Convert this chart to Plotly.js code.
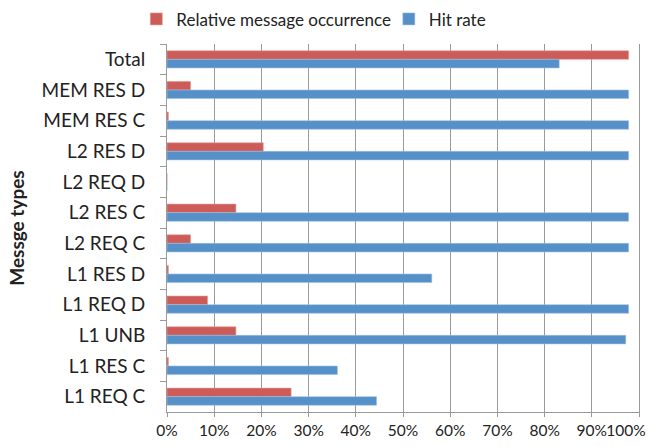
<!DOCTYPE html>
<html>
<head>
<meta charset="utf-8">
<script src="https://cdn.plot.ly/plotly-3.0.1.min.js"></script>
<style>html,body{margin:0;padding:0;background:#fff;}#chart{width:648px;height:447px;}</style>
</head>
<body>
<div id="chart"></div>
<script>
const categories = ["Total","MEM RES D","MEM RES C","L2 RES D","L2 REQ D","L2 RES C","L2 REQ C","L1 RES D","L1 REQ D","L1 UNB","L1 RES C","L1 REQ C"];
const relativeOccurrence = [97.8, 5.0, 0.3, 20.4, 0, 14.6, 5.0, 0.3, 8.6, 14.6, 0.3, 26.3];
const hitRate = [83.1, 97.8, 97.8, 97.8, 0, 97.8, 97.8, 56.1, 97.8, 97.2, 36.1, 44.4];
const xTickVals = [0,10,20,30,40,50,60,70,80,90,100];
const xTickText = ["0%","10%","20%","30%","40%","50%","60%","70%","80%","90%","100%"];

const fontFam = "Lato, 'Open Sans', sans-serif";
const lastIdx = xTickVals.length - 1;
const mainTickText = xTickText.map((t, i) => i === lastIdx ? '' : t);

const traces = [
  {type:'bar', orientation:'h', name:'Relative message occurrence', y:categories, x:relativeOccurrence,
   marker:{color:'#CD5B57', line:{color:'#E3A09C', width:0.6}}, legend:'legend'},
  {type:'bar', orientation:'h', name:'Hit rate', y:categories, x:hitRate,
   marker:{color:'#5590C8', line:{color:'#9DBFE0', width:0.6}}, legend:'legend2'},
  // helper (draws nothing) so that the overlay axis carrying the "100%" label is rendered
  {type:'scatter', mode:'markers', x:[], y:[], xaxis:'x2', yaxis:'y', showlegend:false, hoverinfo:'skip'}
];
const legendCommon = {orientation:'h', yanchor:'middle', y:1.067, xanchor:'left',
  font:{family:fontFam, size:17, color:'#222'}, itemwidth:30, bgcolor:'rgba(0,0,0,0)'};
const tickFont = {family:fontFam, size:15.5, color:'#222'};
const layout = {
  width:648, height:447,
  margin:{l:167, r:9, t:44, b:35, autoexpand:false},
  paper_bgcolor:'#fff', plot_bgcolor:'#fff',
  barmode:'group', bargap:0.44, bargroupgap:0,
  font:{family:fontFam, color:'#222', size:15},
  showlegend:true,
  legend:Object.assign({}, legendCommon, {x:-0.065}),
  legend2:Object.assign({}, legendCommon, {x:0.47}),
  xaxis:{range:[0,100], tickvals:xTickVals, ticktext:mainTickText, tickangle:0, showgrid:true, gridcolor:'#9a9a9a', gridwidth:1,
    showline:true, linecolor:'#9a9a9a', linewidth:1, ticks:'outside', ticklen:4, tickcolor:'#9a9a9a',
    zeroline:false, tickfont:tickFont, fixedrange:true},
  xaxis2:{range:[0,100], overlaying:'x', anchor:'y', side:'bottom', tickvals:[xTickVals[lastIdx]], ticktext:[xTickText[lastIdx]],
    tickangle:0, showgrid:false, showline:false, zeroline:false, ticks:'outside', ticklen:4, tickcolor:'rgba(0,0,0,0)',
    ticklabelshift:-13, tickfont:tickFont, fixedrange:true},
  yaxis:{autorange:'reversed', type:'category', showline:true, mirror:true, linecolor:'#9a9a9a', linewidth:1,
    ticks:'outside', ticklen:6, tickcolor:'#9a9a9a', tickson:'boundaries', showgrid:false,
    ticklabelstandoff:17,
    tickfont:{family:fontFam, size:19, color:'#222'},
    title:{text:'<b>Messge types</b>', font:{family:fontFam, size:19, color:'#222'}, standoff:11}}
};
Plotly.newPlot('chart', traces, layout, {displayModeBar:false, staticPlot:true});
</script>
</body>
</html>
